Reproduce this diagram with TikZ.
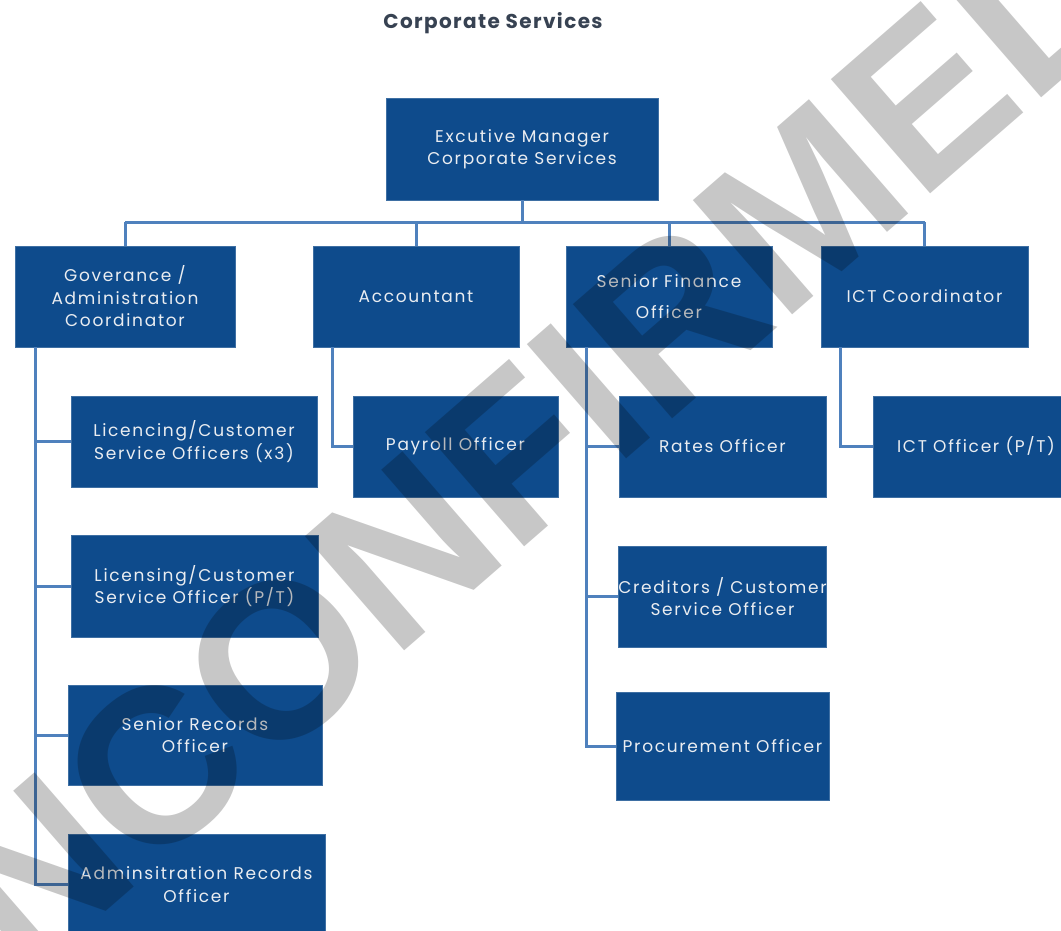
\documentclass[tikz,border=0pt]{standalone}
\usepackage{fontspec}
\setmainfont{Poppins}
\newfontfamily\boxfont[LetterSpace=10]{Poppins}
\newfontfamily\titlefont[LetterSpace=7]{Poppins}
\newfontfamily\wmfont{Liberation Sans}
\definecolor{boxblue}{RGB}{14,75,140}
\definecolor{linkblue}{RGB}{79,129,189}
\definecolor{titlecol}{RGB}{55,66,82}
\definecolor{boxtext}{RGB}{234,237,241}
\tikzset{
  box/.style={fill=boxblue, draw=boxblue!80!white, line width=0.8pt, text=boxtext,
    align=center, inner sep=0pt, font=\boxfont\fontsize{17}{22.5}\selectfont},
  bx/.style 2 args={minimum width=#1pt, minimum height=#2pt},
  conn/.style={draw=linkblue, line width=3pt},
  wmark/.style={anchor=base west, rotate=41, text=black, text opacity=0.22, inner sep=0pt,
    font=\wmfont\bfseries\fontsize{220}{220}\selectfont}
}
\begin{document}
\begin{tikzpicture}[x=1pt,y=-1pt]
\useasboundingbox[fill=white] (0,0) rectangle (1061,931);
\node[font=\titlefont\bfseries\fontsize{20}{22}\selectfont, text=titlecol] (title) at (493,23) {Corporate Services};

\node[box,bx={272}{102}] (top) at (522,149) {Excutive Manager\\Corporate Services};

\node[box,bx={220}{101}] (gov) at (125,296.5) {Goverance /\\Administration\\Coordinator};
\node[box,bx={206}{101}] (acct) at (416,296.5) {Accountant};
\node[box,bx={206}{101}] (sfo) at (669,296.5) {Senior Finance\\[8pt]Officer};
\node[box,bx={207}{101}] (ict) at (924.5,296.5) {ICT Coordinator};

\node[box,bx={246}{91}] (lic3) at (194,441.5) {Licencing/Customer\\Service Officers (x3)};
\node[box,bx={247}{102}] (licpt) at (194.5,586) {Licensing/Customer\\Service Officer (P/T)};
\node[box,bx={254}{100}] (srec) at (195,735) {Senior Records\\Officer};
\node[box,bx={257}{101}] (arec) at (196.5,884.5) {Adminsitration Records\\Officer};

\node[box,bx={205}{101}] (payroll) at (455.5,446.5) {Payroll Officer};

\node[box,bx={207}{101}] (rates) at (722.5,446.5) {Rates Officer};
\node[box,bx={207}{101}] (cred) at (722.5,596.5) {Creditors / Customer\\Service Officer};
\node[box,bx={213}{108}] (proc) at (722.5,746) {Procurement Officer};

\node[box,bx={206}{101}] (ictoff) at (976,446.5) {ICT Officer (P/T)};

\coordinate (bus) at (0,222);
\draw[conn] (top.south) -- (top.south |- bus);
\draw[conn] (gov.north |- bus) -- (ict.north |- bus);
\foreach \n in {gov,acct,sfo,ict} \draw[conn] (\n.north |- bus) -- (\n.north);

\coordinate (gsp) at (35,347);
\draw[conn] (gsp) |- (arec.west);
\foreach \n in {lic3,licpt,srec} \draw[conn] (gsp |- \n.west) -- (\n.west);

\coordinate (asp) at (332,347);
\draw[conn] (asp) |- (payroll.west);

\coordinate (ssp) at (586,347);
\draw[conn] (ssp) |- (proc.west);
\foreach \n in {rates,cred} \draw[conn] (ssp |- \n.west) -- (\n.west);

\coordinate (isp) at (840,347);
\draw[conn] (isp) |- (ictoff.west);

\node[wmark] (wm) at (-95,1086) {UNCONFIRMED};
\end{tikzpicture}
\end{document}
